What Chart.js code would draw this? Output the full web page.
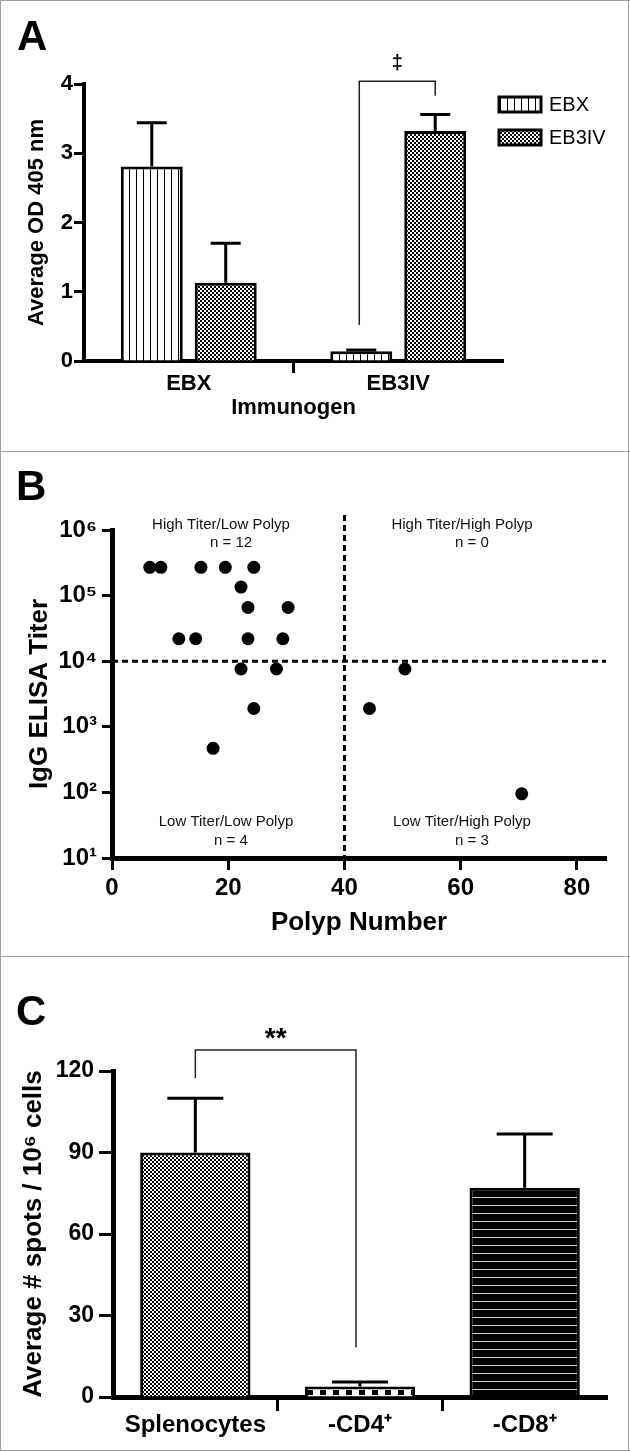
<!DOCTYPE html>
<html>
<head>
<meta charset="utf-8">
<script src="https://cdn.jsdelivr.net/npm/chart.js@4.4.1/dist/chart.umd.min.js"></script>
<style>
  html, body { margin: 0; padding: 0; background: #fff; }
  #fig { position: relative; width: 630px; height: 1451px; overflow: hidden; background: #fff; }
  #fig canvas { position: absolute; left: 0; }
  .rule { position: absolute; background: #a0a0a0; }
</style>
</head>
<body>
<div id="fig">
  <canvas id="chartA" width="630" height="452" style="top:0"></canvas>
  <canvas id="chartB" width="630" height="505" style="top:452px"></canvas>
  <canvas id="chartC" width="630" height="494" style="top:957px"></canvas>
  <div class="rule" style="left:0;top:0;width:630px;height:1px"></div>
  <div class="rule" style="left:0;top:1450px;width:630px;height:1px"></div>
  <div class="rule" style="left:0;top:0;width:1px;height:1451px"></div>
  <div class="rule" style="left:628px;top:0;width:1px;height:1451px"></div>
  <div class="rule" style="left:0;top:451px;width:630px;height:1px"></div>
  <div class="rule" style="left:0;top:956px;width:630px;height:1px"></div>
</div>
<script>
// --- Panel A: antibody OD by immunogen ---
const immunogens = ['EBX', 'EB3IV'];
const odEBX = [2.81, 0.14];
const odEBXErr = [0.63, 0.02];
const odEB3IV = [1.13, 3.32];
const odEB3IVErr = [0.57, 0.24];
const odTicks = [0, 1, 2, 3, 4];

// --- Panel B: titer vs polyp number ---
const polypNumber = [6.5, 8.4, 15.3, 19.5, 24.4, 22.2, 23.4, 30.3, 11.5, 14.4, 23.4, 29.4,
                     22.2, 28.3, 24.4, 17.4, 44.3, 50.4, 70.5];
const elisaTiter = [270000, 270000, 270000, 270000, 270000, 135000, 66000, 66000, 22000, 22000, 22000, 22000,
                    7600, 7600, 1900, 470, 1900, 7600, 95];
const polypTicks = [0, 20, 40, 60, 80];
const titerTicks = [10, 100, 1000, 10000, 100000, 1000000];

// --- Panel C: ELISpot ---
const cellGroups = ['Splenocytes', '-CD4\u207A', '-CD8\u207A'];
const spots = [90, 3.9, 77];
const spotsErr = [20, 1.6, 19.8];
const spotTicks = [0, 30, 60, 90, 120];

const SUP = ['\u2070', '\u00B9', '\u00B2', '\u00B3', '\u2074', '\u2075', '\u2076'];
const FONT = '"Liberation Sans", Arial, sans-serif';
Chart.defaults.font.family = FONT;
Chart.defaults.color = '#000';

// fill patterns like the Prism originals
function makePattern(w, h, paint) {
    const c = document.createElement('canvas');
    c.width = w; c.height = h;
    const g = c.getContext('2d');
    paint(g);
    return g.createPattern(c, 'repeat');
}
const vStripes = makePattern(7, 4, g => {
    g.fillStyle = '#fff'; g.fillRect(0, 0, 7, 4);
    g.fillStyle = '#000'; g.fillRect(3, 0, 1, 4);
});
const checker = makePattern(4, 4, g => {
    g.fillStyle = '#fff'; g.fillRect(0, 0, 4, 4);
    g.fillStyle = '#000'; g.fillRect(0, 0, 2, 2); g.fillRect(2, 2, 2, 2);
});
const squares = makePattern(13, 13, g => {
    g.fillStyle = '#fff'; g.fillRect(0, 0, 13, 13);
    g.fillStyle = '#000'; g.fillRect(0, 0, 6, 5);
});
squares.setTransform(new DOMMatrix([1, 0, 0, 1, 8, 4]));
const hStripes = makePattern(4, 8, g => {
    g.fillStyle = '#000'; g.fillRect(0, 0, 4, 8);
    g.fillStyle = '#d4d4d4'; g.fillRect(0, 0, 4, 1);
});

// upper error bars, from each bar's top
const errorBars = {
    id: 'errorBars',
    afterDatasetsDraw(chart, args, opts) {
        const ctx = chart.ctx;
        const y = chart.scales.y;
        ctx.save();
        ctx.strokeStyle = '#000';
        ctx.lineWidth = 3;
        chart.data.datasets.forEach((ds, i) => {
            if (!ds.errors) return;
            chart.getDatasetMeta(i).data.forEach((bar, j) => {
                const top = y.getPixelForValue(ds.data[j] + ds.errors[j]);
                ctx.beginPath();
                ctx.moveTo(bar.x, bar.y);
                ctx.lineTo(bar.x, top);
                ctx.moveTo(bar.x - opts.cap, top);
                ctx.lineTo(bar.x + opts.cap, top);
                ctx.stroke();
            });
        });
        ctx.restore();
    }
};

function panelLetter(ctx, letter, x, y) {
    ctx.fillStyle = '#000';
    ctx.font = 'bold 42px ' + FONT;
    ctx.textAlign = 'left';
    ctx.textBaseline = 'alphabetic';
    ctx.fillText(letter, x, y);
}

const panelA = {
    id: 'panelA',
    afterDraw(chart) {
        const { ctx, scales: { y } } = chart;
        const m0 = chart.getDatasetMeta(0), m1 = chart.getDatasetMeta(1);
        ctx.save();
        // significance bracket
        const xl = m0.data[1].x - 2, xr = m1.data[1].x;
        const yTop = y.getPixelForValue(4.04);
        ctx.strokeStyle = '#222';
        ctx.lineWidth = 1.5;
        ctx.beginPath();
        ctx.moveTo(xl, y.getPixelForValue(0.52));
        ctx.lineTo(xl, yTop);
        ctx.lineTo(xr, yTop);
        ctx.lineTo(xr, y.getPixelForValue(3.83));
        ctx.stroke();
        ctx.fillStyle = '#000';
        ctx.font = 'bold 20px ' + FONT;
        ctx.textAlign = 'center';
        ctx.textBaseline = 'middle';
        ctx.fillText('\u2021', (xl + xr) / 2, yTop - 18);
        // legend
        chart.data.datasets.forEach((ds, i) => {
            const top = 97 + i * 33;
            ctx.fillStyle = ds.backgroundColor;
            ctx.fillRect(499, top, 42, 15);
            ctx.lineWidth = 3;
            ctx.strokeStyle = '#000';
            ctx.strokeRect(499, top, 42, 15);
            ctx.fillStyle = '#000';
            ctx.font = '20px ' + FONT;
            ctx.textAlign = 'left';
            ctx.textBaseline = 'middle';
            ctx.fillText(ds.label, 549, top + 8);
        });
        panelLetter(ctx, 'A', 17, 50);
        ctx.restore();
    }
};

const panelB = {
    id: 'panelB',
    beforeDatasetsDraw(chart) {
        const { ctx, chartArea, scales: { x, y } } = chart;
        ctx.save();
        ctx.strokeStyle = '#000';
        ctx.lineWidth = 3;
        ctx.setLineDash([6, 4]);
        const xv = x.getPixelForValue(40);
        ctx.beginPath();
        ctx.moveTo(xv, 63);
        ctx.lineTo(xv, chartArea.bottom);
        const yh = y.getPixelForValue(10000);
        ctx.moveTo(chartArea.left, yh);
        ctx.lineTo(chartArea.right, yh);
        ctx.stroke();
        ctx.restore();
    },
    afterDraw(chart) {
        const ctx = chart.ctx;
        ctx.save();
        ctx.fillStyle = '#111';
        ctx.font = '15px ' + FONT;
        ctx.textAlign = 'center';
        ctx.textBaseline = 'middle';
        ctx.fillText('High Titer/Low Polyp', 221, 73);
        ctx.fillText('n = 12', 231, 91);
        ctx.fillText('High Titer/High Polyp', 462, 73);
        ctx.fillText('n = 0', 472, 91);
        ctx.fillText('Low Titer/Low Polyp', 226, 370);
        ctx.fillText('n = 4', 231, 389);
        ctx.fillText('Low Titer/High Polyp', 462, 370);
        ctx.fillText('n = 3', 472, 389);
        panelLetter(ctx, 'B', 16, 48);
        ctx.restore();
    }
};

const panelC = {
    id: 'panelC',
    afterDraw(chart) {
        const { ctx, scales: { y } } = chart;
        const bars = chart.getDatasetMeta(0).data;
        ctx.save();
        const xl = bars[0].x, xr = bars[1].x - 4;
        const yTop = y.getPixelForValue(127.7);
        ctx.strokeStyle = '#222';
        ctx.lineWidth = 1.5;
        ctx.beginPath();
        ctx.moveTo(xl, y.getPixelForValue(117.4));
        ctx.lineTo(xl, yTop);
        ctx.lineTo(xr, yTop);
        ctx.lineTo(xr, y.getPixelForValue(18.2));
        ctx.stroke();
        ctx.fillStyle = '#000';
        ctx.font = 'bold 28px ' + FONT;
        ctx.textAlign = 'center';
        ctx.textBaseline = 'alphabetic';
        ctx.fillText('**', (xl + xr) / 2, yTop - 3);
        panelLetter(ctx, 'C', 16, 68);
        ctx.restore();
    }
};

const hiddenTick = 'rgba(0,0,0,0)';

// Chart A
new Chart(document.getElementById('chartA'), {
    type: 'bar',
    data: {
        labels: immunogens,
        datasets: [
            { label: 'EBX', data: odEBX, errors: odEBXErr, backgroundColor: vStripes, borderColor: '#000', borderWidth: 3 },
            { label: 'EB3IV', data: odEB3IV, errors: odEB3IVErr, backgroundColor: checker, borderColor: '#000', borderWidth: 3 }
        ]
    },
    options: {
        responsive: false,
        animation: false,
        categoryPercentage: 0.706,
        barPercentage: 0.838,
        layout: { padding: { left: 0, top: 84, right: 127, bottom: 0 } },
        plugins: { legend: { display: false }, tooltip: { enabled: false }, errorBars: { cap: 15 } },
        scales: {
            x: {
                afterFit: s => { s.height = 91; },
                grid: { drawOnChartArea: false, offset: true, tickLength: 12, tickWidth: 3,
                        tickColor: c => c.index === 1 ? '#000' : hiddenTick },
                border: { color: '#000', width: 4 },
                ticks: { color: '#000', padding: 0, font: { size: 22, weight: 'bold', lineHeight: 1 } },
                title: { display: true, text: 'Immunogen', color: '#000',
                         font: { size: 22, weight: 'bold' }, padding: { top: 0, bottom: 31 } }
            },
            y: {
                min: 0, max: 4,
                afterFit: s => { s.width = 84; },
                afterBuildTicks: s => { s.ticks = odTicks.map(v => ({ value: v })); },
                grid: { drawOnChartArea: false, tickLength: 10, tickWidth: 3, tickColor: '#000' },
                border: { color: '#000', width: 4 },
                ticks: { color: '#000', padding: 1, font: { size: 22, weight: 'bold' } },
                title: { display: true, text: 'Average OD 405 nm', color: '#000',
                         font: { size: 22, weight: 'bold' }, padding: { top: 24, bottom: 0 } }
            }
        }
    },
    plugins: [errorBars, panelA]
});

// Chart B
new Chart(document.getElementById('chartB'), {
    type: 'scatter',
    data: {
        datasets: [{
            data: polypNumber.map((x, i) => ({ x: x, y: elisaTiter[i] })),
            backgroundColor: '#000',
            borderWidth: 0,
            pointRadius: 6.5
        }]
    },
    options: {
        responsive: false,
        animation: false,
        layout: { padding: { left: 0, top: 78, right: 24, bottom: 0 } },
        plugins: { legend: { display: false }, tooltip: { enabled: false } },
        scales: {
            x: {
                type: 'linear', min: 0, max: 85,
                afterFit: s => { s.height = 99; },
                afterBuildTicks: s => { s.ticks = polypTicks.map(v => ({ value: v })); },
                grid: { drawOnChartArea: false, tickLength: 12, tickWidth: 3, tickColor: '#000' },
                border: { color: '#000', width: 5 },
                ticks: { color: '#000', padding: 6, font: { size: 24, weight: 'bold', lineHeight: 1 } },
                title: { display: true, text: 'Polyp Number', color: '#000',
                         font: { size: 26, weight: 'bold' }, padding: { top: 0, bottom: 19 } }
            },
            y: {
                type: 'logarithmic', min: 10, max: 1000000,
                afterFit: s => { s.width = 112; },
                afterBuildTicks: s => { s.ticks = titerTicks.map(v => ({ value: v })); },
                grid: { drawOnChartArea: false, tickLength: 10, tickWidth: 3, tickColor: '#000' },
                border: { color: '#000', width: 5 },
                ticks: { color: '#000', padding: 5, font: { size: 24, weight: 'bold' },
                         callback: v => '10' + SUP[Math.round(Math.log10(v))] },
                title: { display: true, text: 'IgG ELISA Titer', color: '#000',
                         font: { size: 26, weight: 'bold' }, padding: { top: 24, bottom: 0 } }
            }
        }
    },
    plugins: [panelB]
});

// Chart C
new Chart(document.getElementById('chartC'), {
    type: 'bar',
    data: {
        labels: cellGroups,
        datasets: [{
            data: spots,
            errors: spotsErr,
            backgroundColor: [checker, squares, hStripes],
            borderColor: '#000',
            borderWidth: 3
        }]
    },
    options: {
        responsive: false,
        animation: false,
        categoryPercentage: 1,
        barPercentage: 0.67,
        layout: { padding: { left: 0, top: 114, right: 23, bottom: 0 } },
        plugins: { legend: { display: false }, tooltip: { enabled: false }, errorBars: { cap: 28 } },
        scales: {
            x: {
                afterFit: s => { s.height = 54; },
                grid: { drawOnChartArea: false, offset: true, tickLength: 14, tickWidth: 3,
                        tickColor: c => c.index >= 1 ? '#000' : hiddenTick },
                border: { color: '#000', width: 5 },
                ticks: { color: '#000', padding: 2, font: { size: 24, weight: 'bold', lineHeight: 1 } }
            },
            y: {
                min: 0, max: 120,
                afterFit: s => { s.width = 113; },
                afterBuildTicks: s => { s.ticks = spotTicks.map(v => ({ value: v })); },
                grid: { drawOnChartArea: false, tickLength: 14, tickWidth: 3, tickColor: '#000' },
                border: { color: '#000', width: 5 },
                ticks: { color: '#000', padding: 5, font: { size: 23, weight: 'bold' } },
                title: { display: true, text: 'Average # spots / 10\u2076 cells', color: '#000',
                         font: { size: 26, weight: 'bold' }, padding: { top: 18, bottom: 0 } }
            }
        }
    },
    plugins: [errorBars, panelC]
});
</script>
</body>
</html>
